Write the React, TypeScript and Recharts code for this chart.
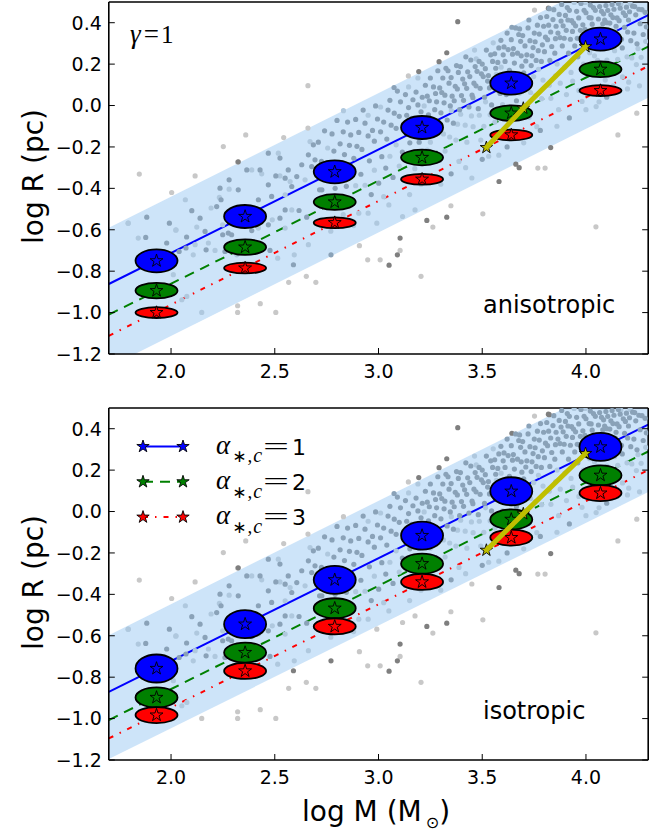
import React from "react";
import { ComposedChart, Scatter, Line, Area, XAxis, YAxis, Legend } from "recharts";

// axis ticks
const xTicks = [2.0, 2.5, 3.0, 3.5, 4.0];
const yTicks = [-1.2, -1.0, -0.8, -0.6, -0.4, -0.2, 0.0, 0.2, 0.4];

// model clusters (log M)
const clusterX = [1.93, 2.357, 2.789, 3.21, 3.64, 4.07];

// anisotropic panel: log R per alpha_*,c
const aniBlue = [-0.75, -0.536, -0.32, -0.106, 0.108, 0.321];
const aniGreen = [-0.894, -0.684, -0.466, -0.251, -0.037, 0.175];
const aniRed = [-1.0, -0.785, -0.566, -0.356, -0.142, 0.072];

// isotropic panel
const isoBlue = [-0.758, -0.544, -0.33, -0.116, 0.098, 0.312];
const isoGreen = [-0.898, -0.681, -0.467, -0.252, -0.038, 0.175];
const isoRed = [-0.983, -0.77, -0.555, -0.34, -0.126, 0.089];

// fitted relations, evaluated at the axis ends
const fitX = [1.7, 4.3];
const aniFitBlue = [-0.862, 0.437];
const aniFitGreen = [-1.01, 0.284];
const aniFitRed = [-1.112, 0.19];
const isoFitBlue = [-0.871, 0.42];
const isoFitGreen = [-1.007, 0.29];
const isoFitRed = [-1.096, 0.2];

// shaded band
const aniBandLow = [-1.263, 0.037];
const aniBandHigh = [-0.59, 0.71];
const isoBandLow = [-1.195, 0.094];
const isoBandHigh = [-0.597, 0.7];

// evolution track
const trackX = [3.52, 3.698, 3.998];
const aniTrackY = [-0.203, -0.013, 0.284];
const isoTrackY = [-0.187, -0.011, 0.28];

const legendLabels = ["1", "2", "3"];

// observed clusters (same in both panels)
const darkPts = [
  [3.382, 0.405], [3.329, 0.255], [3.292, 0.212], [3.194, 0.164], [3.075, 0.087], [3.643, 0.378], [3.819, 0.47],
  [3.83, -0.203], [3.662, -0.283], [3.678, -0.3], [3.581, -0.367], [3.329, -0.539], [3.233, -0.555], [3.104, -0.64],
  [3.091, -0.721], [3.051, -0.771], [2.771, -0.721],
  [1.883, -0.539], [1.992, -0.568], [1.878, -0.637], [2.1, -0.508], [2.072, -0.688], [2.241, -0.455], [2.28, -0.359],
  [2.324, -0.272], [2.365, -0.311], [2.429, -0.311], [2.469, -0.23], [2.525, -0.254], [2.469, -0.383], [2.505, -0.34],
  [2.55, -0.351], [2.565, -0.311], [2.582, -0.391], [2.606, -0.343], [2.63, -0.286], [2.662, -0.238], [2.678, -0.295],
  [2.686, -0.19], [2.694, -0.262], [2.236, -0.399], [2.324, -0.407], [2.22, -0.488], [2.14, -0.544], [2.075, -0.635],
  [2.169, -0.697], [2.249, -0.624], [2.276, -0.616], [2.292, -0.624], [2.389, -0.604], [2.469, -0.576], [2.525, -0.544],
  [2.55, -0.504], [2.617, -0.507], [2.654, -0.539], [2.727, -0.407], [2.71, -0.455], [2.485, -0.439], [2.421, -0.455],
  [2.164, -0.608], [2.26, -0.705], [1.979, -0.664], [2.039, -0.705], [1.887, -0.713], [2.59, -0.769], [2.477, -0.7],
  [2.71, -0.177], [2.716, -0.407], [2.725, -0.27], [2.74, -0.122], [2.746, -0.332], [2.755, -0.455], [2.77, -0.277],
  [2.776, -0.137], [2.785, -0.22], [2.791, -0.4], [2.8, -0.072], [2.806, -0.282], [2.815, -0.185], [2.821, -0.325],
  [2.83, -0.127], [2.836, -0.237], [2.845, -0.39], [2.851, -0.08], [2.86, -0.192], [2.866, -0.142], [2.875, -0.455],
  [2.881, -0.255], [2.89, -0.067], [2.896, -0.197], [2.905, -0.13], [2.92, -0.212], [2.926, -0.022], [2.915, -0.332],
  [2.935, -0.085], [2.95, -0.147], [2.956, -0.267], [2.965, -0.43], [2.971, -0.12], [2.98, -0.172], [2.986, -0.002],
  [2.995, -0.065], [3.001, -0.375], [3.01, -0.127], [3.016, -0.247], [3.025, -0.08], [3.04, -0.162], [3.046, -0.022],
  [3.035, -0.302], [3.055, 0.025], [3.061, -0.095], [3.07, -0.347], [3.076, -0.037], [3.085, -0.11], [3.091, 0.07],
  [3.1, -0.052], [3.106, 0.018], [3.115, -0.225], [3.121, -0.115], [3.13, 0.053], [3.136, -0.047], [3.145, -0.01],
  [3.151, -0.18], [3.16, -0.062], [3.166, 0.028], [3.175, -0.105], [3.181, 0.065], [3.19, 0.003], [3.196, -0.177],
  [3.205, -0.03], [3.211, 0.04], [3.22, -0.122], [3.226, 0.098], [3.235, 0.045], [3.241, -0.045], [3.25, 0.133],
  [3.256, -0.087], [3.245, 0.023], [3.265, 0.09], [3.271, -0.02], [3.28, 0.018], [3.286, 0.168], [3.275, 0.058],
  [3.295, 0.085], [3.301, -0.035],
  [3.31, 0.133], [3.316, 0.013], [3.305, 0.063], [3.325, 0.18], [3.331, -0.07], [3.32, 0.05], [3.34, 0.108],
  [3.346, -0.002], [3.335, 0.168], [3.355, 0.045], [3.361, -0.085], [3.35, 0.135], [3.37, 0.093], [3.376, 0.193],
  [3.365, 0.023], [3.385, 0.16], [3.391, -0.02], [3.38, 0.08], [3.4, 0.048], [3.406, 0.128], [3.395, 0.188],
  [3.415, 0.105], [3.421, 0.235], [3.41, 0.025], [3.43, 0.163], [3.436, -0.007], [3.425, 0.083], [3.445, 0.22],
  [3.451, 0.05], [3.44, 0.14], [3.46, 0.108], [3.466, 0.188], [3.455, 0.038], [3.475, 0.165], [3.481, -0.015],
  [3.47, 0.095], [3.49, 0.083], [3.496, 0.153], [3.485, 0.213], [3.505, 0.14], [3.511, 0.04], [3.5, 0.2],
  [3.52, 0.268], [3.526, 0.118], [3.515, 0.178], [3.535, 0.085], [3.541, 0.245], [3.53, 0.145], [3.55, 0.213],
  [3.556, 0.113], [3.545, 0.003], [3.565, 0.18], [3.571, 0.08], [3.56, 0.25], [3.58, 0.278], [3.586, 0.058],
  [3.575, 0.208], [3.595, 0.145], [3.601, 0.245], [3.59, 0.315], [3.61, 0.213], [3.616, 0.053], [3.605, 0.283],
  [3.625, 0.27], [3.631, 0.17], [3.62, 0.35], [3.64, 0.318], [3.646, 0.248], [3.655, 0.205], [3.661, 0.375],
  [3.65, 0.275], [3.67, 0.253], [3.676, 0.343], [3.665, 0.023], [3.685, 0.31], [3.691, 0.19], [3.68, 0.37],
  [3.688, 0.24], [3.7, 0.158], [3.706, 0.288], [3.695, 0.338], [3.715, 0.245], [3.721, 0.375], [3.71, 0.215],
  [3.73, 0.313], [3.736, 0.193], [3.725, 0.413], [3.745, 0.28], [3.751, 0.35], [3.74, 0.24], [3.76, 0.218],
  [3.766, 0.388], [3.755, 0.308], [3.775, 0.345], [3.781, 0.425], [3.77, 0.265], [3.79, 0.293], [3.796, 0.383],
  [3.785, 0.213],
  [3.805, 0.33], [3.811, 0.43], [3.8, 0.26], [3.82, 0.388], [3.826, 0.218], [3.815, 0.318], [3.823, 0.468],
  [3.835, 0.285], [3.841, 0.415], [3.83, 0.355], [3.85, 0.253], [3.856, 0.383], [3.845, 0.463], [3.853, 0.323],
  [3.865, 0.35], [3.871, 0.44], [3.88, 0.408], [3.886, 0.288], [3.875, 0.328], [3.883, 0.488], [3.895, 0.325],
  [3.901, 0.435], [3.89, 0.385], [3.91, 0.473], [3.916, 0.253], [3.905, 0.363], [3.913, 0.413], [3.925, 0.32],
  [3.931, 0.41], [3.92, 0.46], [3.94, 0.398], [3.946, 0.288], [3.935, 0.358], [3.955, 0.455], [3.961, 0.235],
  [3.95, 0.385], [3.958, 0.325], [3.97, 0.323], [3.976, 0.493], [3.965, 0.423], [3.973, 0.363], [3.985, 0.39],
  [3.991, 0.46], [4.0, 0.448], [4.006, 0.308], [3.995, 0.368], [4.015, 0.425], [4.021, 0.485], [4.01, 0.355],
  [4.03, 0.393], [4.036, 0.473], [4.025, 0.423], [4.045, 0.46], [4.051, 0.36], [4.06, 0.418], [4.066, 0.478],
  [4.055, 0.348], [4.075, 0.455], [4.081, 0.395], [4.09, 0.413], [4.096, 0.483], [4.085, 0.443], [4.105, 0.46],
  [4.111, 0.36], [4.1, 0.4], [4.12, 0.438], [4.126, 0.488], [4.115, 0.398], [4.135, 0.465], [4.141, 0.355],
  [4.13, 0.425], [4.15, 0.423], [4.156, 0.493], [4.145, 0.383], [4.165, 0.47], [4.171, 0.32], [4.16, 0.41],
  [4.18, 0.448], [4.186, 0.378], [4.175, 0.278], [4.195, 0.475], [4.201, 0.355], [4.19, 0.435], [4.21, 0.453],
  [4.216, 0.313], [4.205, 0.413], [4.225, 0.48], [4.231, 0.35], [4.24, 0.438], [4.246, 0.298], [4.235, 0.478],
  [4.255, 0.465], [4.261, 0.395], [4.27, 0.463], [4.276, 0.343], [4.285, 0.45], [4.291, 0.38],
  [3.35, -0.33], [3.5, -0.26], [3.62, -0.2], [3.78, -0.12], [3.92, -0.06], [4.1, 0.04],
];

const lightPts = [
  [2.66, 0.096], [2.66, -0.109], [2.36, -0.142], [2.543, -0.155], [2.252, -0.198], [2.321, -0.273], [1.847, -0.331],
  [2.116, -0.34], [2.003, -0.42], [3.144, 0.143], [2.831, -0.025], [3.752, 0.461], [4.154, -0.142], [4.245, -0.037],
  [3.768, -0.302], [3.803, -0.302], [4.049, -0.005], [3.503, -0.523], [3.349, -0.484], [3.262, -0.587], [3.104, -0.7],
  [3.008, -0.745], [2.948, -0.745], [2.908, -0.677], [3.205, -0.825], [4.048, -0.586], [3.116, -0.536], [2.992, -0.568],
  [3.176, -0.504], [2.321, -0.967], [2.321, -0.999], [2.43, -0.957], [2.505, -0.999], [2.148, -0.999], [2.567, -0.854],
  [2.698, -0.854], [2.652, -0.825], [1.793, -0.568], [2.069, -0.455],
  [2.023, -0.602], [2.107, -0.721], [2.233, -0.444], [2.389, -0.311], [2.437, -0.33], [2.517, -0.23], [2.525, -0.34],
  [2.574, -0.367], [2.646, -0.359], [2.67, -0.174], [2.28, -0.404], [2.193, -0.495], [2.124, -0.587], [2.116, -0.672],
  [2.212, -0.7], [2.249, -0.576], [2.344, -0.664], [2.421, -0.592], [2.488, -0.552], [2.582, -0.504], [2.55, -0.592],
  [2.594, -0.721], [2.662, -0.672], [2.55, -0.431], [2.389, -0.495], [2.18, -0.664], [2.317, -0.721], [2.024, -0.6],
  [1.842, -0.64], [2.052, -0.938], [2.076, -0.922], [2.011, -0.817], [2.514, -0.737], [1.794, -0.568],
  [2.725, -0.55], [2.755, -0.205], [2.77, -0.607], [2.8, -0.462], [2.83, -0.527], [2.86, -0.332], [2.89, -0.387],
  [2.905, -0.52], [2.935, -0.385], [2.95, -0.047], [2.98, -0.312], [3.01, -0.007], [3.025, -0.44], [3.055, -0.245],
  [3.085, -0.19], [3.1, -0.292], [3.13, -0.357], [3.145, 0.09], [3.16, -0.232], [3.175, -0.305], [3.19, 0.133],
  [3.205, -0.38], [3.22, -0.002], [3.235, -0.215], [3.25, -0.177], [3.265, -0.23], [3.28, -0.112], [3.295, -0.265],
  [3.313, -0.137], [3.321, -0.22], [3.343, -0.152], [3.351, -0.025], [3.373, -0.167], [3.381, -0.09], [3.388, -0.27],
  [3.396, -0.042], [3.418, -0.095], [3.426, -0.177], [3.448, -0.05], [3.456, -0.102], [3.463, 0.268], [3.471, 0.225],
  [3.493, -0.167], [3.486, -0.047], [3.508, -0.1], [3.516, 0.018], [3.538, -0.045], [3.531, -0.245], [3.553, 0.303],
  [3.561, -0.08], [3.568, 0.15], [3.576, -0.142], [3.598, 0.005], [3.591, 0.185], [3.613, 0.113], [3.621, -0.03],
  [3.643, -0.072], [3.636, 0.148], [3.658, 0.065], [3.651, -0.135], [3.673, 0.133], [3.681, 0.06], [3.703, -0.022],
  [3.711, 0.115], [3.733, 0.063], [3.726, -0.057], [3.748, 0.14], [3.756, 0.048], [3.763, -0.102], [3.771, 0.175],
  [3.793, 0.123], [3.786, 0.033],
  [3.823, 0.098], [3.831, 0.035], [3.853, 0.143], [3.861, 0.2], [3.868, -0.02], [3.876, 0.108], [3.898, 0.185],
  [3.906, 0.053], [3.928, 0.16], [3.936, 0.118], [3.943, 0.498], [3.966, 0.073], [3.988, 0.2], [3.981, 0.02],
  [4.003, 0.168], [3.996, 0.498], [4.018, 0.255], [4.026, 0.153], [4.033, 0.303], [4.041, 0.24], [4.048, 0.09],
  [4.056, 0.218], [4.063, 0.018], [4.071, 0.295], [4.078, 0.165], [4.086, 0.273], [4.093, 0.123], [4.101, 0.22],
  [4.123, 0.308], [4.116, 0.158], [4.138, 0.265], [4.131, 0.095], [4.153, 0.223], [4.161, 0.17], [4.168, 0.49],
  [4.176, 0.138], [4.198, 0.235], [4.206, 0.113], [4.213, 0.493], [4.221, 0.23], [4.243, 0.198], [4.251, 0.275],
  [4.258, 0.095], [4.266, 0.233], [4.288, 0.31],
  [3.42, -0.3], [3.58, -0.24], [3.7, -0.18], [3.86, -0.1], [4.0, -0.02], [4.2, 0.08], [3.45, -0.35], [3.3, -0.38],
  [3.15, -0.43], [3.05, -0.48], [2.95, -0.52], [2.88, -0.58],
];

const BLUE = "#0000ff";
const GREEN = "#008000";
const RED = "#ff0000";
const TRACK = "#bfbf00";
const seriesStyle = [
  { color: BLUE, dash: undefined },
  { color: GREEN, dash: "10 7" },
  { color: RED, dash: "5 7 1.5 7" },
];
// dot colours: [outside band, seen through the band]
const darkDot = ["#7f7f7f", "#8aa2b8"];
const lightDot = ["#c8c8c8", "#afc8de"];

const SANS = "'DejaVu Sans', sans-serif";
const SERIF = "'Liberation Serif', 'DejaVu Serif', serif";

function starPath(cx: number, cy: number, r: number) {
  let d = "";
  for (let i = 0; i < 10; i++) {
    const rad = i % 2 === 0 ? r : r * 0.382;
    const a = -Math.PI / 2 + (i * Math.PI) / 5;
    d += (i === 0 ? "M" : "L") + (cx + rad * Math.cos(a)).toFixed(2) + "," + (cy + rad * Math.sin(a)).toFixed(2);
  }
  return d + "Z";
}

const fmt = (v: number) => (v < -1e-9 ? "\u2212" : "") + Math.abs(v).toFixed(1);

const toXY = (xs: number[], ys: number[]) => xs.map((x, i) => ({ x, y: ys[i] }));
const toBand = (lo: number[], hi: number[]) => fitX.map((x, i) => ({ x, band: [lo[i], hi[i]] }));
const toPts = (pts: number[][]) => pts.map(([x, y]) => ({ x, y }));

const axisLine = { stroke: "#000", strokeWidth: 1.6 };

const BottomTick = (p: any) => (
  <g>
    <line x1={p.x} x2={p.x} y1={p.y} y2={p.y - 6} stroke="#000" strokeWidth={1} />
    <text x={p.x} y={p.y + 24.3} textAnchor="middle" fontFamily={SANS} fontSize={19} fill="#000">
      {fmt(p.payload.value)}
    </text>
  </g>
);
const TopTick = (p: any) => <line x1={p.x} x2={p.x} y1={p.y} y2={p.y + 6} stroke="#000" strokeWidth={1} />;
const LeftTick = (p: any) => (
  <g>
    <line x1={p.x} x2={p.x + 6} y1={p.y} y2={p.y} stroke="#000" strokeWidth={1} />
    <text x={p.x - 7} y={p.y + 6.8} textAnchor="end" fontFamily={SANS} fontSize={19} fill="#000">
      {fmt(p.payload.value)}
    </text>
  </g>
);
const RightTick = (p: any) => <line x1={p.x} x2={p.x - 6} y1={p.y} y2={p.y} stroke="#000" strokeWidth={1} />;

const ellipseShape = (color: string, rx: number, ry: number) => (p: any) => (
  <g>
    <ellipse cx={p.cx} cy={p.cy} rx={rx} ry={ry} fill={color} stroke="#000" strokeWidth={1.8} />
    <path d={starPath(p.cx, p.cy, 6.8)} fill={color} stroke="#000" strokeWidth={0.9} />
  </g>
);

// dots under the shaded band take its tint
const dotShape = (colors: string[], lo: number[], hi: number[]) => (p: any) => {
  const x = p.payload.x;
  const y = p.payload.y;
  const t = (x - fitX[0]) / (fitX[1] - fitX[0]);
  const inside = y >= lo[0] + (lo[1] - lo[0]) * t && y <= hi[0] + (hi[1] - hi[0]) * t;
  return <circle cx={p.cx} cy={p.cy} r={2.6} fill={colors[inside ? 1 : 0]} />;
};

function LegendBox() {
  return (
    <svg width={220} height={120} style={{ overflow: "visible" }}>
      {legendLabels.map((lab, i) => {
        const y = 20.5 + i * 35.3;
        const s = seriesStyle[i];
        return (
          <g key={lab}>
            <line x1={23} x2={63} y1={y} y2={y} stroke={s.color} strokeWidth={2} strokeDasharray={s.dash} />
            <path d={starPath(23, y, 6.5)} fill={s.color} stroke="#000" strokeWidth={0.9} />
            <path d={starPath(63, y, 6.5)} fill={s.color} stroke="#000" strokeWidth={0.9} />
            <text x={96} y={y + 7.3} fill="#000">
              <tspan fontFamily={SERIF} fontStyle="italic" fontSize={27}>α</tspan>
              <tspan fontFamily={SANS} fontSize={17} dx={2} dy={8.4}>∗</tspan>
              <tspan fontFamily={SERIF} fontSize={19} dx={1}>,</tspan>
              <tspan fontFamily={SERIF} fontStyle="italic" fontSize={20} dx={1}>c</tspan>
            </text>
            <text x={143} y={y + 8.3} fontFamily={SERIF} fontSize={26} textLength={26} lengthAdjust="spacingAndGlyphs">=</text>
            <text x={172} y={y + 8.3} fontFamily={SANS} fontSize={22}>{lab}</text>
          </g>
        );
      })}
    </svg>
  );
}

function Panel(props: any) {
  const { blue, green, red, fits, bandLo, bandHi, trackY, ry, note, gamma, legend, height, axisH, xLabel } = props;
  return (
    <ComposedChart width={664} height={height} margin={{ top: 0, right: 0, bottom: 0, left: 0 }}>
      <XAxis xAxisId={0} dataKey="x" type="number" domain={[1.7, 4.3]} ticks={xTicks} allowDataOverflow interval={0}
        height={axisH} tickSize={0} tickMargin={0} tickLine={false} axisLine={axisLine} tick={BottomTick} />
      <XAxis xAxisId="top" orientation="top" type="number" domain={[1.7, 4.3]} ticks={xTicks} allowDataOverflow
        interval={0} height={2} tickSize={0} tickMargin={0} tickLine={false} axisLine={axisLine} tick={TopTick} />
      <YAxis yAxisId={0} dataKey="y" type="number" domain={[-1.2, 0.5]} ticks={yTicks} allowDataOverflow interval={0}
        width={108.8} tickSize={0} tickMargin={0} tickLine={false} axisLine={axisLine} tick={LeftTick} />
      <YAxis yAxisId="right" orientation="right" type="number" domain={[-1.2, 0.5]} ticks={yTicks} allowDataOverflow
        interval={0} width={15.8} tickSize={0} tickMargin={0} tickLine={false} axisLine={axisLine} tick={RightTick} />

      <Area data={toBand(bandLo, bandHi)} dataKey="band" type="linear" fill="#9ccaf3" fillOpacity={0.5}
        stroke="none" isAnimationActive={false} />
      <Scatter data={toPts(lightPts)} shape={dotShape(lightDot, bandLo, bandHi)} isAnimationActive={false} />
      <Scatter data={toPts(darkPts)} shape={dotShape(darkDot, bandLo, bandHi)} isAnimationActive={false} />

      <Line data={toXY(fitX, fits[0])} dataKey="y" stroke={BLUE} strokeWidth={2} dot={false} isAnimationActive={false} />
      <Line data={toXY(fitX, fits[1])} dataKey="y" stroke={GREEN} strokeWidth={2} strokeDasharray={seriesStyle[1].dash}
        dot={false} isAnimationActive={false} />
      <Line data={toXY(fitX, fits[2])} dataKey="y" stroke={RED} strokeWidth={2} strokeDasharray={seriesStyle[2].dash}
        dot={false} isAnimationActive={false} />

      <Scatter data={toXY(clusterX, blue)} shape={ellipseShape(BLUE, 21, ry[0])} isAnimationActive={false} />
      <Scatter data={toXY(clusterX, green)} shape={ellipseShape(GREEN, 21, ry[1])} isAnimationActive={false} />
      <Scatter data={toXY(clusterX, red)} shape={ellipseShape(RED, 21, ry[2])} isAnimationActive={false} />

      <Line data={toXY(trackX, trackY)} dataKey="y" stroke={TRACK} strokeWidth={5} isAnimationActive={false} zIndex={700}
        dot={(p: any) => <path key={p.index} d={starPath(p.cx, p.cy, 6.5)} fill={TRACK} stroke="#000" strokeWidth={0.9} />} />

      {legend && (
        <Legend layout="vertical" align="center" verticalAlign="middle" content={() => <LegendBox />}
          wrapperStyle={{ position: "absolute", left: 120, top: 20, width: 220, height: 120 }} />
      )}

      <text transform="rotate(-90, 43, 176.5)" x={43} y={176.5} textAnchor="middle" fontFamily={SANS} fontSize={28} fill="#000">
        log R (pc)
      </text>
      <text x={483} y={313} fontFamily={SANS} fontSize={24} fill="#000">{note}</text>
      {gamma && (
        <text x={130} y={43.3} fill="#000">
          <tspan fontFamily={SERIF} fontStyle="italic" fontSize={27}>γ</tspan>
          <tspan fontFamily={SERIF} fontSize={27} dx={3}>=</tspan>
          <tspan fontFamily={SERIF} fontSize={25} dx={2}>1</tspan>
        </text>
      )}
      {xLabel && (
        <text x={302} y={414.5} fontFamily={SANS} fontSize={28} fill="#000">
          log M (M<tspan fontSize={16} dx={4} dy={7}>⊙</tspan><tspan dy={-7}>)</tspan>
        </text>
      )}
    </ComposedChart>
  );
}

export default function App() {
  return (
    <div style={{ position: "absolute", left: 0, top: 0, width: 664, height: 831, background: "#fff" }}>
      <div style={{ position: "absolute", left: 0, top: 0 }}>
        <Panel blue={aniBlue} green={aniGreen} red={aniRed} fits={[aniFitBlue, aniFitGreen, aniFitRed]}
          bandLo={aniBandLow} bandHi={aniBandHigh} trackY={aniTrackY} ry={[11.5, 7.8, 5.4]}
          note="anisotropic" gamma legend={false} height={400} axisH={46} xLabel={false} />
      </div>
      <div style={{ position: "absolute", left: 0, top: 405.5 }}>
        <Panel blue={isoBlue} green={isoGreen} red={isoRed} fits={[isoFitBlue, isoFitGreen, isoFitRed]}
          bandLo={isoBandLow} bandHi={isoBandHigh} trackY={isoTrackY} ry={[14, 10, 8]}
          note="isotropic" gamma={false} legend height={425.5} axisH={71.5} xLabel />
      </div>
    </div>
  );
}
